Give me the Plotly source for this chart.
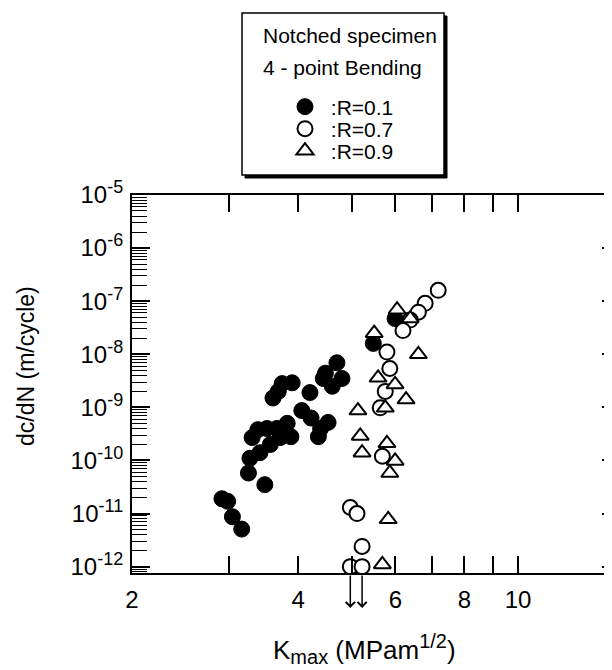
import math
import plotly.graph_objects as go

# ---- data (K_max in MPa m^1/2, dc/dN in m/cycle) ----
r01_k = [2.91, 2.98, 3.04, 3.16, 3.25, 3.27, 3.30, 3.38, 3.48, 3.41, 3.51, 3.56, 3.66,
         3.71, 3.82, 3.60, 3.68, 3.74, 3.90, 3.88, 4.06, 4.22, 4.20, 4.39, 4.35, 4.53,
         4.48, 4.44, 4.70, 4.61, 4.80, 5.47, 5.99]
r01_dcdn = [1.9e-11, 1.7e-11, 8.7e-12, 5.1e-12, 5.8e-11, 1.1e-10, 2.7e-10, 3.8e-10, 3.5e-11,
            1.4e-10, 4.0e-10, 2.0e-10, 4.0e-10, 2.7e-10, 5.0e-10, 1.5e-9, 2.0e-9, 2.8e-9,
            2.9e-9, 2.8e-10, 8.7e-10, 6.3e-10, 1.9e-9, 4.0e-10, 2.8e-10, 5.2e-10, 4.4e-9,
            3.5e-9, 6.9e-9, 2.5e-9, 3.5e-9, 1.6e-8, 4.7e-8]

r07_k = [7.17, 6.79, 6.60, 6.38, 6.19, 5.79, 5.86, 5.75, 5.63, 5.68, 4.97, 5.11, 5.22, 4.97, 5.22]
r07_dcdn = [1.6e-7, 9.1e-8, 6.2e-8, 4.4e-8, 2.8e-8, 1.1e-8, 5.4e-9, 2.0e-9, 9.8e-10, 1.2e-10,
            1.3e-11, 1.0e-11, 2.4e-12, 1.0e-12, 1.0e-12]

r09_k = [6.04, 6.38, 5.49, 6.60, 5.58, 5.99, 6.27, 5.75, 5.13, 5.18, 5.79, 5.22, 5.99, 5.86, 5.82, 5.68]
r09_dcdn = [6.9e-8, 4.7e-8, 2.5e-8, 1.0e-8, 3.6e-9, 2.7e-9, 1.4e-9, 9.8e-10, 8.7e-10, 2.9e-10,
            2.1e-10, 1.4e-10, 9.8e-11, 5.8e-11, 7.8e-12, 1.1e-12]

arrow_k = [4.97, 5.22]  # run-outs below the detection limit

x_tick_vals = [2, 3, 4, 5, 6, 7, 8, 9, 10]
x_tick_text = ["2", "", "4", "", "6", "", "8", "", "10"]
y_tick_vals = [1e-12, 1e-11, 1e-10, 1e-9, 1e-8, 1e-7, 1e-6, 1e-5]
y_exponents = ["-12", "-11", "-10", "-9", "-8", "-7", "-6", "-5"]

FONT = "Arial, 'Liberation Sans', sans-serif"
SUP = "<sup><span style='font-size:18px'>{}</span></sup>"
y_tick_text = ["10" + SUP.format(e) for e in y_exponents]

fig = go.Figure()
fig.add_trace(go.Scatter(x=r01_k, y=r01_dcdn, mode="markers", name="\u00a0:R=0.1",
                         legend="legend",
                         marker=dict(symbol="circle", size=16, color="black",
                                     line=dict(color="black", width=1))))
fig.add_trace(go.Scatter(x=r07_k, y=r07_dcdn, mode="markers", name="\u00a0:R=0.7",
                         legend="legend2",
                         marker=dict(symbol="circle", size=15, color="white",
                                     line=dict(color="black", width=2))))
fig.add_trace(go.Scatter(x=r09_k, y=r09_dcdn, mode="markers", name="\u00a0:R=0.9",
                         legend="legend3",
                         marker=dict(symbol="triangle-up", size=15, color="white",
                                     line=dict(color="black", width=2))))

# figure geometry (page is offset by the 8px body margin)
W, H = 612, 670
OFF = 8
L, R, T, B = 124, 0, 187, 105
pw, ph = W - L - R, H - T - B
PAGE_LEFT, PAGE_BOTTOM = L + OFF, H - B + OFF


def px_x(px):
    return (px - PAGE_LEFT) / pw


def px_y(py):
    return (PAGE_BOTTOM - py) / ph


axis_common = dict(showline=True, linewidth=2, linecolor="black", mirror="ticks",
                   ticks="inside", tickwidth=1.5, tickcolor="black", showgrid=False,
                   zeroline=False, tickfont=dict(family=FONT, size=24, color="black"))

fig.update_xaxes(type="log", range=[math.log10(2), math.log10(15.3)],
                 tickmode="array", tickvals=x_tick_vals, ticktext=x_tick_text,
                 ticklen=17, ticklabelstandoff=4, **axis_common)
fig.update_yaxes(type="log", range=[-12.12, -5],
                 tickmode="array", tickvals=y_tick_vals, ticktext=y_tick_text,
                 ticklen=18, ticklabelstandoff=2,
                 minor=dict(ticks="inside", ticklen=15, tickwidth=1, tickcolor="black",
                            dtick="D1", showgrid=False),
                 **axis_common)

# legend box (frame + shadow) and its heading lines
box_l, box_t, box_r, box_b = 242, 13, 444, 175
fig.add_shape(type="rect", xref="paper", yref="paper",
              x0=px_x(box_l + 3), x1=px_x(box_r + 3), y0=px_y(box_b + 3), y1=px_y(box_t + 3),
              fillcolor="black", line=dict(color="black", width=1), layer="below")
fig.add_shape(type="rect", xref="paper", yref="paper",
              x0=px_x(box_l), x1=px_x(box_r), y0=px_y(box_b), y1=px_y(box_t),
              fillcolor="white", line=dict(color="black", width=1.5), layer="below")
for txt, yy in [("Notched specimen", 36), ("4 - point Bending", 68)]:
    fig.add_annotation(text=txt, xref="paper", yref="paper",
                       x=px_x(261), y=px_y(yy), xanchor="left", yanchor="middle",
                       showarrow=False, font=dict(family=FONT, size=21, color="black"))

# axis titles
fig.add_annotation(text="dc/dN (m/cycle)", xref="paper", yref="paper",
                   x=px_x(26), y=px_y(366), xanchor="center", yanchor="middle",
                   textangle=-90, showarrow=False,
                   font=dict(family=FONT, size=23, color="black"))
fig.add_annotation(text="K<sub><span style='font-size:20px'>max</span></sub> (MPam"
                        "<sup><span style='font-size:20px'>1/2</span></sup>)",
                   xref="paper", yref="paper",
                   x=px_x(364), y=px_y(649), xanchor="center", yanchor="middle",
                   showarrow=False, font=dict(family=FONT, size=26, color="black"))

# down arrows under the lowest R=0.7 points
for k in arrow_k:
    fig.add_annotation(x=math.log10(k), xref="x", y=px_y(608), yref="paper",
                       text="", showarrow=True, ax=0, ay=-34,
                       arrowhead=4, arrowsize=1.2, arrowwidth=1.5, arrowcolor="black")

legend_common = dict(xanchor="left", yanchor="middle", bgcolor="rgba(0,0,0,0)",
                     borderwidth=0, itemsizing="trace",
                     font=dict(family=FONT, size=21, color="black"))
fig.update_layout(
    width=W, height=H,
    margin=dict(l=L, r=R, t=T, b=B, autoexpand=False),
    paper_bgcolor="white", plot_bgcolor="white",
    font=dict(family=FONT, color="black"),
    showlegend=True,
    legend=dict(x=px_x(285), y=px_y(107), **legend_common),
    legend2=dict(x=px_x(285), y=px_y(129), **legend_common),
    legend3=dict(x=px_x(285), y=px_y(151), **legend_common),
)

fig.write_html("out.html")
